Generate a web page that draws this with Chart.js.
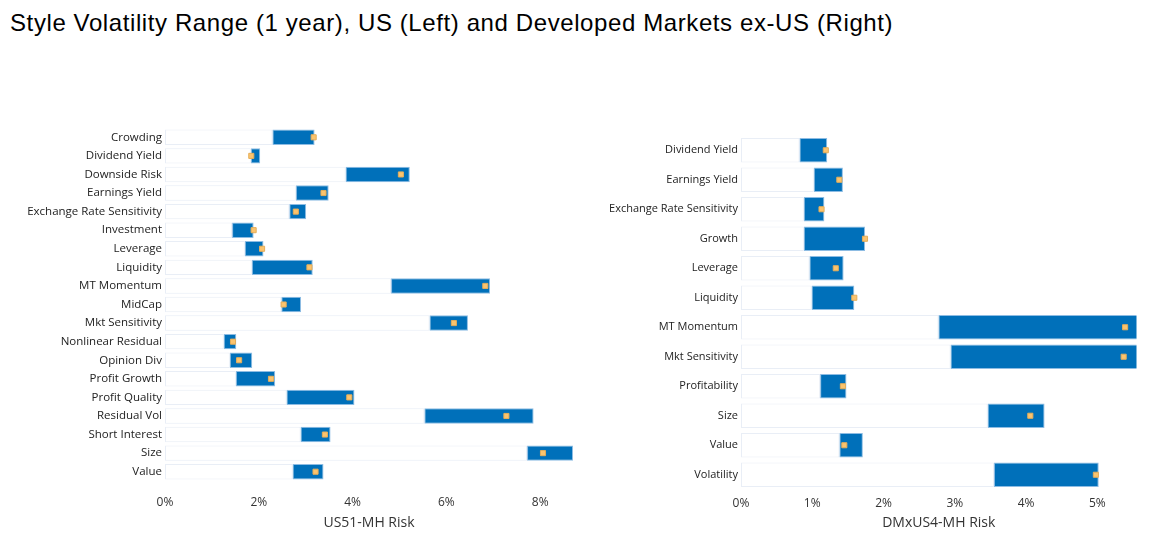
<!DOCTYPE html>
<html>
<head>
<meta charset="utf-8">
<script src="https://cdn.jsdelivr.net/npm/chart.js@4"></script>
<style>
    body { margin: 0; background: #fff; width: 1150px; height: 541px; overflow: hidden; position: relative; }
    #title { position: absolute; left: 10px; top: 8.5px; font-family: "Liberation Sans", Arial, sans-serif; font-size: 24px; letter-spacing: 0.6px; color: #000; white-space: nowrap; }
    .box { position: absolute; top: 111.5px; height: 429.5px; }
    #boxLeft { left: 0; width: 590px; }
    #boxRight { left: 580px; width: 570px; }
</style>
</head>
<body>
<div id="title">Style Volatility Range (1 year), US (Left) and Developed Markets ex-US (Right)</div>
<div class="box" id="boxLeft"><canvas id="chartLeft"></canvas></div>
<div class="box" id="boxRight"><canvas id="chartRight"></canvas></div>
<script>
// US (trái)
var usLabels = ['Crowding', 'Dividend Yield', 'Downside Risk', 'Earnings Yield', 'Exchange Rate Sensitivity',
    'Investment', 'Leverage', 'Liquidity', 'MT Momentum', 'MidCap', 'Mkt Sensitivity', 'Nonlinear Residual',
    'Opinion Div', 'Profit Growth', 'Profit Quality', 'Residual Vol', 'Short Interest', 'Size', 'Value'];
var usMin = [2.29, 1.83, 3.85, 2.79, 2.65, 1.43, 1.70, 1.85, 4.82, 2.48, 5.64, 1.25, 1.38, 1.51, 2.59, 5.53, 2.89, 7.72, 2.72];
var usMax = [3.19, 2.03, 5.22, 3.49, 3.01, 1.89, 2.10, 3.15, 6.93, 2.90, 6.46, 1.52, 1.86, 2.35, 4.04, 7.86, 3.53, 8.70, 3.38];
var usCur = [3.17, 1.84, 5.03, 3.38, 2.79, 1.89, 2.07, 3.08, 6.83, 2.53, 6.16, 1.45, 1.58, 2.26, 3.93, 7.28, 3.41, 8.06, 3.21];

// DM ex-US (phải)
var dmLabels = ['Dividend Yield', 'Earnings Yield', 'Exchange Rate Sensitivity', 'Growth', 'Leverage', 'Liquidity',
    'MT Momentum', 'Mkt Sensitivity', 'Profitability', 'Size', 'Value', 'Volatility'];
var dmMin = [0.82, 1.02, 0.88, 0.88, 0.96, 0.99, 2.77, 2.94, 1.11, 3.46, 1.38, 3.55];
var dmMax = [1.21, 1.43, 1.17, 1.74, 1.44, 1.59, 5.60, 5.60, 1.48, 4.26, 1.71, 5.02];
var dmCur = [1.19, 1.38, 1.13, 1.74, 1.33, 1.59, 5.39, 5.37, 1.43, 4.06, 1.45, 4.98];

var xTicksUS = [0, 2, 4, 6, 8];
var xTicksDM = [0, 1, 2, 3, 4, 5];

var BLUE = '#0070BA';
var FONT = '"Open Sans", "Noto Sans", sans-serif';

function buildChart(canvasId, labels, mins, maxs, curs, xMax, tickVals, axisTitle, cfg) {
    var base = labels.map(function (l, i) { return [0, mins[i]]; });
    var range = labels.map(function (l, i) { return [mins[i], maxs[i]]; });
    var marks = labels.map(function (l, i) { return { x: curs[i], y: l }; });

    return new Chart(document.getElementById(canvasId), {
        type: 'bar',
        data: {
            labels: labels,
            datasets: [
                {
                    type: 'line', data: marks, showLine: false, indexAxis: 'y',
                    pointStyle: 'rect', pointRadius: 3.6, pointHoverRadius: 3.6,
                    pointBackgroundColor: '#FBC46E', pointBorderColor: '#E5AE5A', pointBorderWidth: 1,
                    order: 0
                },
                {
                    data: range, backgroundColor: BLUE, borderColor: '#8DBCE3', borderWidth: 1,
                    borderSkipped: false, grouped: false, categoryPercentage: 1, barPercentage: 0.83, order: 1
                },
                {
                    data: base, backgroundColor: '#ffffff', borderColor: '#E9EEF6', borderWidth: 1,
                    borderSkipped: false, grouped: false, categoryPercentage: 1, barPercentage: 0.83, order: 2
                }
            ]
        },
        options: {
            indexAxis: 'y',
            responsive: true,
            maintainAspectRatio: false,
            animation: false,
            layout: { padding: { left: 0, right: cfg.padRight, top: cfg.padTop, bottom: 0 } },
            plugins: { legend: { display: false }, tooltip: { enabled: false } },
            scales: {
                x: {
                    min: 0, max: xMax,
                    grid: { display: false, drawTicks: false },
                    border: { display: false },
                    afterBuildTicks: function (scale) {
                        scale.ticks = tickVals.map(function (v) { return { value: v }; });
                    },
                    afterFit: function (scale) { scale.height = cfg.xHeight; },
                    ticks: {
                        padding: cfg.tickPad, color: '#333', font: { family: FONT, size: 12 },
                        callback: function (v) { return v + '%'; }
                    },
                    title: {
                        display: true, text: axisTitle, color: '#333',
                        font: { family: FONT, size: 14 }, padding: { top: 0, bottom: 10 }
                    }
                },
                y: {
                    grid: { display: false, drawTicks: false },
                    border: { display: false },
                    afterFit: function (scale) { scale.width = cfg.yWidth; },
                    ticks: { padding: 3, color: '#222', font: { family: FONT, size: cfg.labelSize } }
                }
            }
        }
    });
}

buildChart('chartLeft', usLabels, usMin, usMax, usCur, 8.70, xTicksUS, 'US51-MH Risk',
    { padRight: 17, padTop: 16, xHeight: 60.5, tickPad: 14.5, yWidth: 165, labelSize: 11.5 });
buildChart('chartRight', dmLabels, dmMin, dmMax, dmCur, 5.55, xTicksDM, 'DMxUS4-MH Risk',
    { padRight: 13.5, padTop: 23.5, xHeight: 52, tickPad: 7, yWidth: 161, labelSize: 11 });
</script>
</body>
</html>
